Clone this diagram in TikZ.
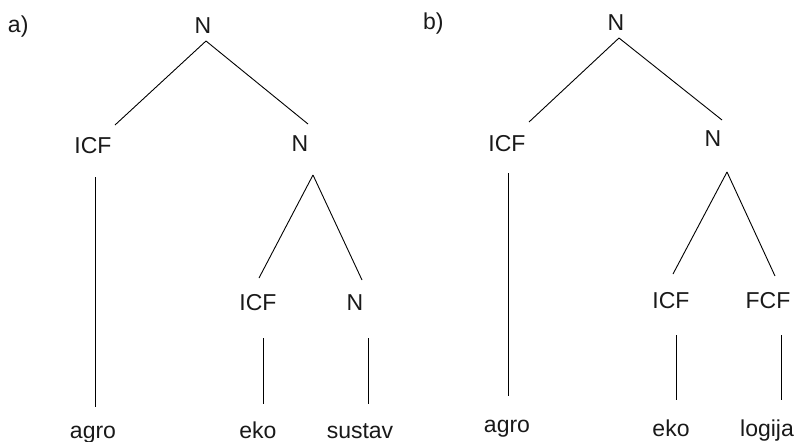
\documentclass[tikz,border=0pt]{standalone}
\usepackage{fontspec}
\setmainfont{Liberation Sans}
\usetikzlibrary{calc}
\begin{document}
\begin{tikzpicture}[x=1pt,y=-1pt,
  lbl/.style={anchor=base,inner sep=0pt,outer sep=0pt,font=\fontsize{23}{27}\selectfont,text=black!90},
  edge/.style={line width=0.9pt,black}]
\useasboundingbox (0,0) rectangle (796,442);
% ---------- tree a ----------
\node[lbl,anchor=base west] (la) at (8,32) {a)};
\node[lbl] (Na)    at (203,33)  {N};
\node[lbl] (ICFa)  at (93,153)  {ICF};
\node[lbl] (N2a)   at (300,151) {N};
\node[lbl] (ICF3a) at (258,310) {ICF};
\node[lbl] (N3a)   at (355,310) {N};
\node[lbl] (agroa) at (93,438)  {agro};
\node[lbl] (ekoa)  at (258,438) {eko};
\node[lbl] (sustava) at (360,438) {sustav};
\draw[edge] ($(Na.base)+(3,8)$) -- ($(ICFa.base)+(22,-28)$);
\draw[edge] ($(Na.base)+(3,8)$) -- ($(N2a.base)+(8,-27)$);
\draw[edge] ($(ICFa.base)+(2,24)$) -- ($(agroa.base)+(2,-31)$);
\draw[edge] ($(N2a.base)+(13,24)$) -- ($(ICF3a.base)+(1,-32)$);
\draw[edge] ($(N2a.base)+(13,24)$) -- ($(N3a.base)+(7,-30)$);
\draw[edge] ($(ICF3a.base)+(5,28)$) -- ($(ekoa.base)+(5,-34)$);
\draw[edge] ($(N3a.base)+(13,28)$) -- ($(sustava.base)+(8,-34)$);
% ---------- tree b ----------
\node[lbl,anchor=base west] (lb) at (423,29) {b)};
\node[lbl] (Nb)    at (616,30)  {N};
\node[lbl] (ICFb)  at (507,151) {ICF};
\node[lbl] (N2b)   at (713,146) {N};
\node[lbl] (ICF3b) at (671,308) {ICF};
\node[lbl] (FCFb)  at (768,308) {FCF};
\node[lbl] (agrob) at (507,432) {agro};
\node[lbl] (ekob)  at (671,436) {eko};
\node[lbl] (logijab) at (767,436) {logija};
\draw[edge] ($(Nb.base)+(3,8)$) -- ($(ICFb.base)+(22,-29)$);
\draw[edge] ($(Nb.base)+(3,8)$) -- ($(N2b.base)+(9,-26)$);
\draw[edge] ($(ICFb.base)+(1,22)$) -- ($(agrob.base)+(1,-36)$);
\draw[edge] ($(N2b.base)+(14,26)$) -- ($(ICF3b.base)+(2,-34)$);
\draw[edge] ($(N2b.base)+(14,26)$) -- ($(FCFb.base)+(7,-32)$);
\draw[edge] ($(ICF3b.base)+(5,27)$) -- ($(ekob.base)+(5,-36)$);
\draw[edge] ($(FCFb.base)+(13,27)$) -- ($(logijab.base)+(14,-36)$);
\end{tikzpicture}
\end{document}
